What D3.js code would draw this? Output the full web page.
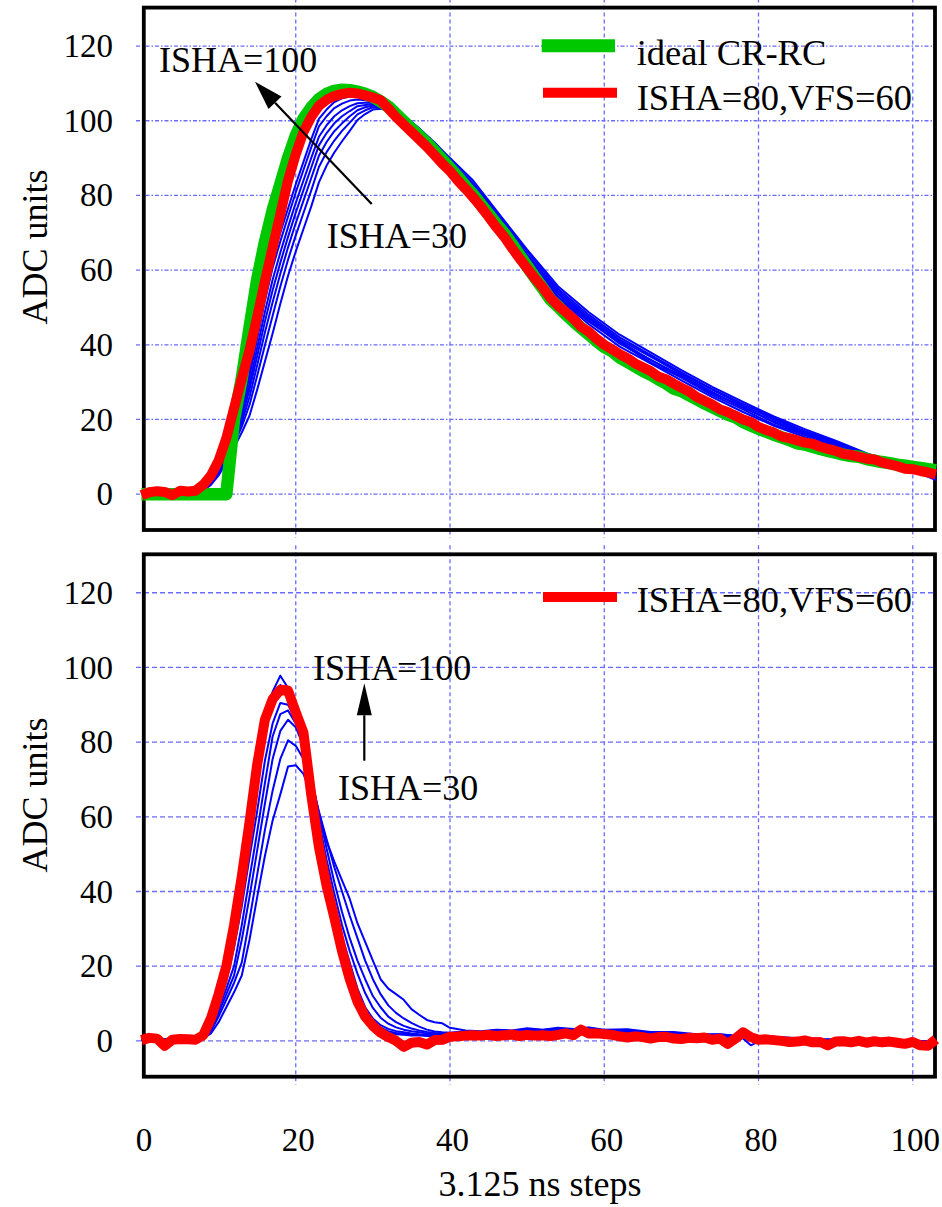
<!DOCTYPE html>
<html><head><meta charset="utf-8">
<script src="https://cdn.jsdelivr.net/npm/d3@7"></script>
<style>
body{margin:0;background:#fff;}
svg{display:block;background:#fff;}
text{font-family:"Liberation Serif","Times New Roman",serif;fill:#000;}
</style></head><body>
<svg id="chart" width="942" height="1207"></svg>
<script>
// ---------- data ----------
const xTicks = [0, 20, 40, 60, 80, 100];
const yTicks = [0, 20, 40, 60, 80, 100, 120];
const legendTop = ["ideal CR-RC", "ISHA=80,VFS=60"];
const legendBottom = ["ISHA=80,VFS=60"];
const yTitle = "ADC units";
const xTitle = "3.125 ns steps";

// top panel: red (ISHA=80,VFS=60) and green (ideal CR-RC), one value per step 0..103
const topRed = [-0.3,0.5,0.8,0.6,-0.3,0.9,0.7,0.9,
 2.5,5,9,15,23,31,38.5,47.5,57,66,75,84,91,97,101,104,105.6,106.6,107.2,107.5,107.3,106.8,106.2,105.5,103.3,101,99,97,95,93,90.8,88.5,
 86.5,84,81.8,79.5,77,74.3,71.5,69,66,63.2,60.5,57.8,55.4,52.6,50.5,48.8,47,44.8,43.5,41.6,
 40,38.8,37.5,36.4,35,34,33,31.5,30.8,29.6,28.5,27.5,26,25,24,22.7,22,21,20,19.3,
 18,17.2,16.5,15.4,15,14.4,13.8,13.5,12.7,12.1,11.6,10.8,10.5,10,9.5,9.3,8.5,8,7.5,6.8,6.7,6.2,5.8,5.3];
const topGreen = [0,0,0,0,0,0,0,0,0,0,0,0,
 20,31,44.5,57.5,67.5,76,83,90,96,100.5,103.5,105.8,107.2,108,108.3,108.2,107.8,107.2,106.4,105.2,103.8,101.8,99.8,97.8,96,94,91.8,89.6,
 87.3,85,82.5,80.2,77.6,75,72.4,69.9,67,64,61,58,55.2,52.2,50.3,48.2,46.3,44.5,42.8,41,
 39.4,38.3,36.6,35.4,34.2,33,32,30.8,29.7,28.3,27.6,26.5,25.4,24.3,23.3,22.3,21.3,20.6,19.3,18.4,
 17.5,16.7,15.9,15.2,14.5,13.6,13.3,12.7,12.1,11.6,11.1,10.6,10.2,10,9.4,9,8.6,8.3,7.9,7.6,7.3,7,6.7,6.4];

// top panel blue traces (ISHA scan), sampled at topBlueX
const topBlueX = [0,2,4,6,7,8,9,10,11,12,13,14,15,16,17,18,19,20,21,22,23,24,25,26,27,28,29,30,31,32,34,36,38,40,43,46,50,54,58,62,66,70,74,78,82,86,90,94,98,101,103];
const topBlue100 = [0.3,0.6,0.2,0.5,0.6,1.5,3.5,7,11.5,16.5,23,33,43.5,54,63,70,76.5,83,89,95,100.5,103,105,106,106.5,106.5,106,105.5,104.5,103.5,100,96,91.8,87.3,81,73,62.5,52.5,45.5,39.5,35,30.5,26,22,18.3,15.3,12.6,10,7.3,5.6,4.6];
const topBlue90  = [0.5,0.3,0.6,0.4,0.7,1.4,3.4,6.8,11.1,16,22.2,31.6,41.6,51.8,60.6,67.7,74.3,80.8,86.8,92.8,98.5,101.2,103.4,104.6,105.4,105.7,105.5,105.2,104.3,103.4,100.2,96.5,92.1,87.9,81.7,73.6,63.3,52.9,46.2,40.6,35.3,31.2,26.5,22.7,18.6,15.8,13,10.2,7.4,5.8,4.5];
const topBlue70  = [0.2,0.7,0.4,0.6,0.5,1.4,3.2,6.4,10.7,15.4,21.2,29.6,39.2,48.8,57.4,64.7,71.5,78,84,90,95.7,98.8,101.2,102.8,103.9,104.7,104.8,104.8,104.1,103.3,100.4,96.6,92.5,88.1,81.9,74.1,63.3,53.6,46.5,40.3,36,31.4,27,23.4,19.2,16,13.3,10.3,7.5,5.6,4.4];
const topBlue60  = [0.6,0.4,0.3,0.7,0.5,1.3,3.1,6.2,10.2,14.8,20.3,28,37,46.2,54.6,62,68.9,75.4,81.4,87.4,93.4,96.7,99.3,101.2,102.6,103.9,104.2,104.5,104,103.2,100.6,96.8,92.8,88.4,82.3,74.4,64,53.8,47,41,35.9,31.8,27.4,23.1,19.5,16.3,13.4,10.6,7.6,5.3,4.3];
const topBlue50  = [0.4,0.5,0.7,0.3,0.6,1.2,2.9,5.8,9.8,14.2,19.2,26,34.5,43.3,51.4,59,66.1,72.6,78.6,84.6,90.6,94.3,97.2,99.3,101.2,102.8,103.6,104.1,103.7,103.1,100.9,97.2,93.2,88.9,82.8,74.9,64.2,54.4,47.4,41.4,36.8,32.2,28,23.7,20,16.6,13.8,10.4,7.7,5.5,4.1];
const topBlue40  = [0.3,0.8,0.4,0.6,0.5,1.1,2.7,5.5,9.2,13.5,18.1,23.9,31.7,39.9,47.8,55.6,62.8,69.3,75.3,81.3,87.6,91.6,94.7,97.3,99.5,101.7,102.8,103.6,103.5,103,101.1,97.5,93.6,89.4,83.3,75.4,65,55,48,42,37.3,32.6,28.1,24.2,20.4,16.9,14,10.8,7.8,5.7,4];
const topBlue30  = [0.5,0.4,0.6,0.5,0.4,1,2.5,5,8.5,12.5,16.5,21,28,35.5,43,51,58.5,65,71,77,83.5,88,91.5,94.5,97.3,100.2,101.8,103,103.2,102.8,101.5,98,94.2,90,84,76,65.5,55.7,48.7,42.7,38,33.2,28.7,24.7,20.8,17.4,14.3,11,8,5.5,3.8];

// bottom panel: red (ISHA=80,VFS=60), one value per step 0..103
const botRed = [0.2,0.8,0.6,-1.3,0.3,0.5,0.4,0.3,
 1.5,6,12.5,20,31,44,58.5,74,86,91.5,94,93.8,88,82.5,66,52,41.5,33,24,16.5,10.5,6.5,4,2.2,1,0,-1.6,-0.5,-0.3,-1,0.2,0.3,
 1.1,1.2,1.4,1.5,1.4,1.6,1.3,1.5,1.7,1.3,1.6,1.4,1.5,1.3,1.6,2,1.5,3,2,2,
 1.8,1.6,1.2,0.9,1.2,1,0.6,1,1.1,0.6,0.5,0.8,0.7,0.9,0.3,0.6,-0.8,0.6,2.3,1,
 0.3,0.4,0.2,0,-0.3,-0.2,0.1,-0.4,-0.3,-1.2,-0.2,-0.1,-0.4,0,-0.5,-0.1,-0.4,-0.2,-0.5,-0.8,-0.3,-1.2,-1.3,0.4];

// bottom panel blue traces, sampled at botBlueX
const botBlueX = [0,2,4,6,7,8,9,10,11,12,13,14,15,16,17,18,19,20,21,22,23,24,25,26,27,28,29,30,31,32,33,34,35,36,37,38,39,40,42,44,46,48,50,52,54,56,58,60,63,66,69,72,75,78,79,81,84,87,90,93,96,99,103];
const botBlue100 = [0.3,0.6,0.2,0.5,0.4,1.5,5,11.5,20,31,43,57,72,86,93.5,97.8,94.5,88,82,67,53,42.5,34,25,17.5,11.5,7,4.5,3,2.2,1.8,1.6,1.4,1.5,1.3,1.2,1.4,1.5,1.8,1.6,2.0,1.8,2.2,2.0,2.5,2.2,2.4,2.0,2.2,1.6,1.5,1.2,1.2,0.6,-1.2,0.8,0.5,0.3,0.0,0.2,-0.2,-0.3,-0.2];
const botBlue90  = [0.2,0.5,0.4,0.3,0.3,1.4,4.7,11,19.3,30,41.5,55,69.5,83,91,95.3,93,87.5,81.5,67.5,54,43.5,35,26,18.5,12.5,8,5.2,3.5,2.6,2.1,1.9,1.7,1.6,1.5,1.6,1.5,1.7,1.5,1.9,1.7,2.3,1.9,2.4,2.1,2.8,2.2,2.5,1.8,2.0,1.3,1.5,0.9,1.2,0.5,0.5,0.8,0.0,0.3,-0.1,0.1,-0.5,0.0];
const botBlue70  = [0.3,0.4,0.3,0.4,0.2,1.2,4,9.5,16,25,36,49,61.5,75,85,90.5,90,86,80,69,56.5,46,37,28,21,14,9,6,4.2,3.2,2.6,2.3,2.0,1.8,1.7,1.6,1.8,1.6,2.0,1.8,2.4,2.1,2.6,2.3,2.7,2.4,2.9,2.3,2.4,1.8,1.7,1.3,1.4,0.9,0.2,0.9,0.4,0.5,-0.2,0.3,-0.3,0.0,-0.4];
const botBlue60  = [0.2,0.5,0.3,0.4,0.2,1,3.5,8.5,14,20,31,43.5,56,69,81.5,87.5,88.5,85,79.5,70,59,48.5,39.5,31,24,18,12.8,8.8,6.2,4.6,3.6,3,2.6,2.3,2.0,1.9,1.7,1.9,2.2,2.0,2.5,2.3,2.8,2.5,3.0,2.6,2.7,2.8,2.1,2.2,1.6,1.6,1.0,1.3,0.4,0.6,0.7,0.2,0.2,0.0,0.2,-0.4,-0.1];
const botBlue50  = [0.2,0.4,0.4,0.3,0.2,0.9,3,7.5,12.5,17.5,27,38.5,51,63.5,75.5,83,86,84,79,71,61,51.5,42.5,34.5,27.5,21.5,16.5,12,9,6.5,5,4,3.3,2.8,2.4,2.1,2.0,2.1,2.4,2.2,2.7,2.5,3.0,2.7,3.2,2.8,3.3,2.6,2.6,2.0,2.0,1.4,1.5,1.0,0.6,1.0,0.3,0.6,-0.1,0.4,-0.2,0.1,-0.3];
const botBlue40  = [0.1,0.3,0.2,0.4,0.2,0.8,2.6,6.5,11,15.5,21,32.5,44.5,56.5,67,75.5,80.5,79,75.5,69.5,61.5,54,46.5,40,33.5,27.5,21.5,16.5,12.5,9.5,7.5,6,4.8,3.8,3,2.5,2.3,2.2,2.5,2.4,2.9,2.6,3.2,2.9,3.3,3.0,3.5,2.8,2.9,2.2,2.2,1.6,1.7,1.1,0.8,1.1,0.6,0.4,0.2,0.1,0.0,-0.2,-0.5];
const botBlue30  = [0.2,0.3,0.3,0.2,0.1,0.6,2,5,9,13,17.5,27,38.5,49.5,59,66,73.5,73.8,71.5,66,60,53.5,48,43,38,31.5,26.5,21.5,16.5,14,12.5,11,8.5,7,5.6,5,4.7,3.5,2.8,2.6,3.0,2.8,3.4,3.0,3.5,3.2,3.6,3.0,3.1,2.4,2.4,1.8,1.8,1.2,1.0,1.2,0.8,0.5,0.4,0.2,0.2,-0.2,-0.3];

// ---------- drawing ----------
const svg = d3.select("#chart");
const FONT = '"Liberation Serif","Times New Roman",serif';
const BLUE = "#0000ff", RED = "#ff0000", GREEN = "#00c800", GRID = "#6b6bff";

const x = d3.scaleLinear().domain([0, 103]).range([141.5, 935.9]);
const frameL = 143.8, frameR = 935;
const panels = [
  {top: 7.6, bottom: 530, hDash: "4,2,1.5,2", vDash: "4,3"},
  {top: 554.3, bottom: 1076.7, hDash: "5,3", vDash: "4,3"}
];
panels.forEach(p => {
  p.y = d3.scaleLinear().domain([-9.6, 130.3]).range([p.bottom, p.top]);
});

function drawFrameAndGrid(p) {
  const g = svg.append("g");
  g.selectAll("line.h").data(yTicks).join("line")
    .attr("x1", 136).attr("x2", frameR)
    .attr("y1", d => p.y(d)).attr("y2", d => p.y(d))
    .attr("stroke", GRID).attr("stroke-width", 1.3)
    .attr("stroke-dasharray", p.hDash);
  g.selectAll("line.v").data(xTicks.filter(d => d > 0)).join("line")
    .attr("x1", d => x(d)).attr("x2", d => x(d))
    .attr("y1", p.top - 9).attr("y2", p.bottom + 8)
    .attr("stroke", GRID).attr("stroke-width", 1.3)
    .attr("stroke-dasharray", p.vDash);
  g.append("rect")
    .attr("x", frameL).attr("y", p.top)
    .attr("width", frameR - frameL).attr("height", p.bottom - p.top)
    .attr("fill", "none").attr("stroke", "#000").attr("stroke-width", 3.8);
  const ax = svg.append("g").attr("transform", "translate(116,0)")
    .call(d3.axisLeft(p.y).tickValues(yTicks).tickSize(0).tickPadding(3));
  ax.select(".domain").remove();
  ax.attr("font-family", FONT).attr("font-size", 33);
  ax.selectAll("text").attr("fill", "#000");
}
panels.forEach(drawFrameAndGrid);

function drawSeries(p, xs, ys, color, width) {
  const line = d3.line().x(d => x(d[0])).y(d => p.y(d[1]));
  svg.append("path")
    .datum(xs.map((xv, i) => [xv, ys[i]]))
    .attr("d", line)
    .attr("fill", "none").attr("stroke", color)
    .attr("stroke-width", width)
    .attr("stroke-linejoin", "round").attr("stroke-linecap", "butt");
}
const steps = d3.range(0, 104);

[topBlue100, topBlue90, topBlue70, topBlue60, topBlue50, topBlue40, topBlue30]
  .forEach(s => drawSeries(panels[0], topBlueX, s, BLUE, 2));
drawSeries(panels[0], steps, topGreen, GREEN, 12.5);
drawSeries(panels[0], steps, topRed, RED, 10);

[botBlue100, botBlue90, botBlue70, botBlue60, botBlue50, botBlue40, botBlue30]
  .forEach(s => drawSeries(panels[1], botBlueX, s, BLUE, 2));
drawSeries(panels[1], steps, botRed, RED, 10);

const xa = svg.append("g").attr("transform", "translate(2,1124)")
  .call(d3.axisBottom(x).tickValues(xTicks).tickSize(0).tickPadding(4));
xa.select(".domain").remove();
xa.attr("font-family", FONT).attr("font-size", 33);
xa.selectAll("text").attr("fill", "#000");

svg.append("text").attr("x", 540).attr("y", 1196).attr("text-anchor", "middle")
  .attr("font-size", 36).text(xTitle);
[247, 795].forEach(cy => {
  svg.append("text").attr("transform", `translate(47,${cy}) rotate(-90)`)
    .attr("text-anchor", "middle").attr("font-size", 36).text(yTitle);
});

function legendItem(x1, x2, ly, color, w, label, tx, ty) {
  svg.append("line").attr("x1", x1).attr("x2", x2).attr("y1", ly).attr("y2", ly)
    .attr("stroke", color).attr("stroke-width", w);
  svg.append("text").attr("x", tx).attr("y", ty).attr("font-size", 36.5).text(label);
}
legendItem(541.7, 615, 45.7, GREEN, 13, legendTop[0], 636.7, 65);
legendItem(543, 617, 92.7, RED, 10, legendTop[1], 636.7, 110);
legendItem(543, 617, 597, RED, 10, legendBottom[0], 636.7, 612);

function arrow(x0, y0, x1, y1, len, half) {
  const dx = x1 - x0, dy = y1 - y0, L = Math.hypot(dx, dy);
  const ux = dx / L, uy = dy / L, nx = -uy, ny = ux;
  const bx = x1 - ux * len, by = y1 - uy * len;
  svg.append("line").attr("x1", x0).attr("y1", y0).attr("x2", bx).attr("y2", by)
    .attr("stroke", "#000").attr("stroke-width", 2.2);
  svg.append("path")
    .attr("d", `M${x1},${y1}L${bx + nx * half},${by + ny * half}L${bx - nx * half},${by - ny * half}Z`)
    .attr("fill", "#000");
}
svg.append("text").attr("x", 159).attr("y", 72).attr("font-size", 36).text("ISHA=100");
svg.append("text").attr("x", 326.7).attr("y", 248).attr("font-size", 36).text("ISHA=30");
arrow(371.7, 204, 255, 81.7, 29, 9);
svg.append("text").attr("x", 313).attr("y", 680).attr("font-size", 36).text("ISHA=100");
svg.append("text").attr("x", 338).attr("y", 800).attr("font-size", 36).text("ISHA=30");
arrow(364.3, 760.7, 364.3, 683.3, 32, 7.5);
</script>
</body></html>
